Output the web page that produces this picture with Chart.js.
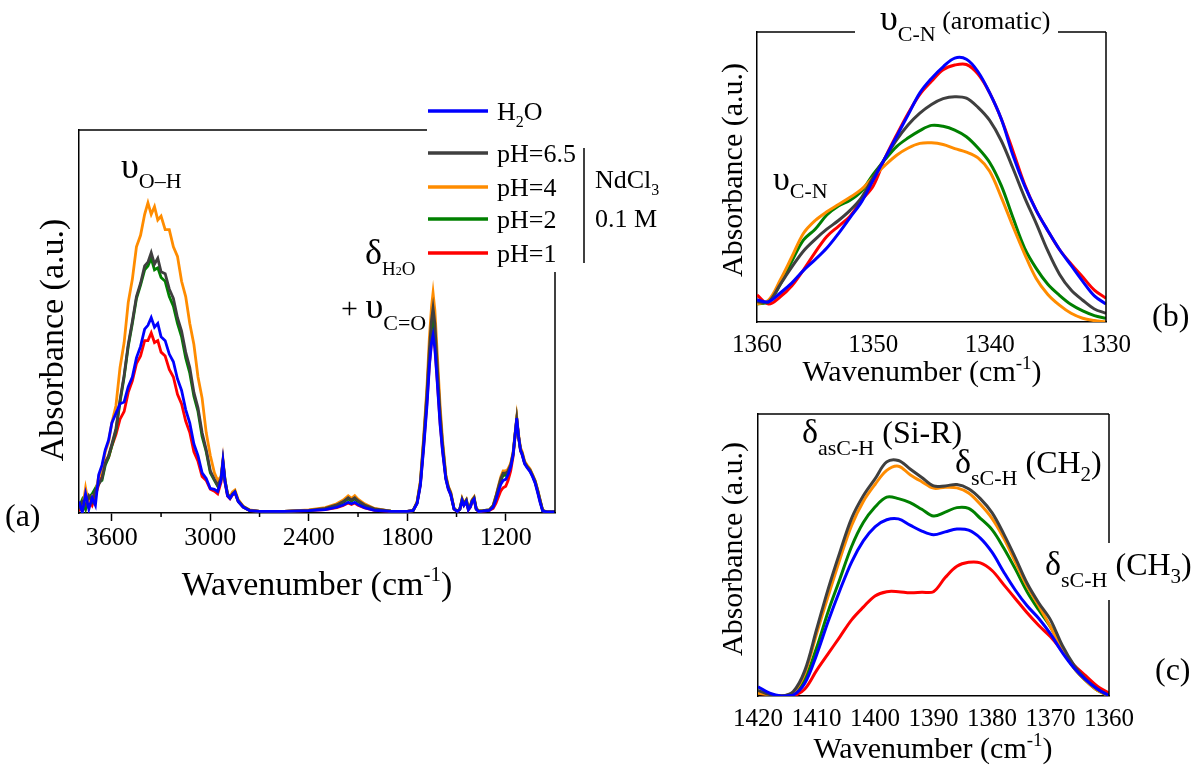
<!DOCTYPE html>
<html>
<head>
<meta charset="utf-8">
<script src="https://cdn.jsdelivr.net/npm/chart.js@4.4.1/dist/chart.umd.min.js"></script>
<style>
  body { margin: 0; background: #fff; }
  #wrap { position: relative; width: 1194px; height: 771px; }
  canvas { position: absolute; }
</style>
</head>
<body>
<div id="wrap">
  <canvas id="chartA" width="690" height="620" style="left:0;top:0"></canvas>
  <canvas id="chartB" width="504" height="400" style="left:690px;top:0"></canvas>
  <canvas id="chartC" width="504" height="371" style="left:690px;top:400px"></canvas>
</div>
<script>
const seriesLabels = ["H2O", "pH=6.5", "pH=4", "pH=2", "pH=1"];
const seriesColors = ["#0000ff", "#3f3f3f", "#ff8c00", "#008000", "#ff0000"];

// (a) full spectrum, wavenumber (cm-1)
const wnA = [3800,3780,3760,3740,3720,3700,3680,3660,3640,3620,3600,3575,3550,3525,3500,3475,3450,3425,3400,3380,
  3360,3340,3320,3300,3275,3250,3225,3200,3175,3150,3125,3100,3075,3050,3025,3000,2975,2955,2935,2923,
  2910,2895,2880,2865,2850,2830,2800,2760,2700,2550,2400,2300,2230,2190,2160,2140,2120,2100,2060,2000,
  1900,1800,1765,1740,1720,1700,1680,1665,1652,1643,1632,1618,1600,1585,1565,1550,1535,1515,1495,1480,
  1466,1455,1440,1428,1415,1405,1393,1380,1365,1340,1300,1277,1260,1245,1230,1216,1200,1186,1170,1155,
  1143,1133,1122,1110,1100,1085,1070,1052,1036,1021,1005,991,975,950,900];
const aH2O = [.03,.002,.05,.01,.04,.02,.10,.125,.165,.19,.235,.26,.285,.29,.33,.355,.405,.435,.48,.49,
  .51,.485,.495,.46,.45,.415,.395,.35,.32,.27,.235,.18,.15,.105,.09,.064,.062,.056,.085,.135,
  .08,.045,.038,.048,.054,.03,.015,.006,.004,.004,.006,.009,.015,.021,.028,.024,.028,.022,.014,.007,
  .004,.004,.006,.025,.072,.17,.28,.385,.445,.465,.43,.345,.23,.16,.088,.062,.047,.01,.004,.009,
  .032,.02,.03,.008,.016,.03,.036,.01,.004,.005,.007,.015,.034,.056,.075,.085,.088,.10,.12,.152,
  .205,.248,.20,.163,.152,.128,.118,.108,.094,.078,.052,.028,.005,.003,.003];
const aPH65 = [.01,.03,.02,.045,.03,.06,.075,.09,.13,.15,.18,.22,.295,.36,.44,.50,.565,.60,.645,.655,
  .68,.65,.665,.63,.625,.585,.56,.51,.475,.42,.38,.315,.275,.21,.165,.11,.088,.072,.09,.135,
  .085,.05,.04,.05,.056,.032,.017,.007,.004,.004,.007,.012,.021,.03,.04,.034,.04,.032,.021,.011,
  .005,.004,.006,.028,.08,.19,.315,.43,.505,.535,.495,.39,.26,.18,.095,.068,.052,.011,.005,.01,
  .036,.024,.034,.012,.02,.033,.04,.012,.005,.006,.008,.019,.043,.067,.09,.104,.104,.11,.126,.156,
  .205,.245,.20,.166,.156,.132,.122,.112,.098,.083,.058,.034,.006,.003,.003];
const aPH4 = [.02,.008,.065,.02,.045,.05,.095,.11,.16,.185,.235,.28,.38,.445,.55,.61,.695,.725,.78,.81,
  .78,.80,.765,.775,.74,.74,.695,.67,.605,.565,.495,.44,.355,.30,.21,.15,.105,.085,.095,.14,
  .085,.05,.042,.055,.06,.035,.018,.008,.004,.004,.008,.014,.024,.034,.045,.038,.045,.036,.024,.012,
  .005,.004,.006,.03,.085,.20,.33,.46,.54,.575,.53,.42,.28,.19,.10,.07,.055,.012,.005,.01,
  .038,.025,.035,.012,.02,.035,.042,.012,.005,.006,.008,.02,.045,.07,.095,.11,.11,.115,.13,.16,
  .21,.25,.205,.17,.16,.135,.125,.115,.10,.085,.06,.035,.006,.003,.003];
const aPH2 = [.015,.035,.01,.04,.05,.065,.08,.085,.125,.145,.175,.215,.29,.355,.435,.495,.56,.595,.635,.645,
  .665,.635,.64,.615,.605,.565,.54,.495,.46,.405,.365,.305,.265,.20,.16,.105,.085,.07,.088,.132,
  .083,.048,.04,.05,.055,.031,.016,.007,.004,.004,.007,.011,.019,.028,.037,.031,.037,.03,.019,.01,
  .005,.004,.006,.027,.078,.185,.305,.415,.485,.51,.47,.375,.25,.175,.092,.066,.05,.011,.005,.01,
  .035,.023,.033,.011,.019,.032,.039,.011,.005,.006,.008,.018,.04,.064,.086,.098,.098,.106,.124,.155,
  .205,.245,.20,.165,.155,.131,.121,.111,.097,.082,.057,.033,.006,.003,.003];
const aPH1 = [.005,.02,.01,.035,.02,.045,.075,.095,.135,.145,.175,.205,.245,.265,.315,.345,.39,.41,.45,.45,
  .47,.445,.45,.42,.41,.375,.355,.31,.285,.24,.21,.16,.135,.095,.085,.062,.057,.05,.08,.128,
  .078,.044,.037,.047,.053,.03,.015,.006,.004,.004,.006,.009,.014,.02,.026,.022,.026,.02,.013,.007,
  .004,.004,.006,.026,.074,.175,.29,.39,.45,.47,.435,.35,.235,.163,.09,.063,.048,.01,.004,.009,
  .031,.02,.029,.008,.016,.029,.035,.01,.004,.005,.007,.012,.025,.042,.058,.066,.07,.085,.11,.148,
  .20,.242,.198,.162,.152,.13,.12,.11,.096,.08,.055,.03,.006,.003,.003];
const ticksA = [3600, 3000, 2400, 1800, 1200];
const minorTicksA = [3300, 2700, 2100, 1500];

// (b) aromatic C-N region
const wnB = [1360,1359,1358,1357,1356,1355,1354,1353,1352,1351,1350,1349,1348,1347,1346,1345,
  1344,1343,1342,1341,1340,1339,1338,1337,1336,1335,1334,1333,1332,1331,1330];
const bH2O = [.076,.07,.10,.135,.178,.215,.255,.305,.36,.415,.49,.565,.64,.715,.79,.84,
  .88,.91,.906,.863,.79,.70,.575,.47,.385,.315,.25,.195,.14,.09,.062];
const bPH65 = [.07,.07,.13,.19,.245,.285,.32,.35,.385,.43,.50,.565,.628,.68,.72,.75,
  .77,.777,.772,.74,.695,.625,.53,.43,.34,.245,.165,.11,.075,.045,.03];
const bPH4 = [.062,.076,.145,.225,.306,.35,.38,.405,.43,.458,.50,.54,.575,.60,.616,.618,
  .612,.598,.586,.566,.52,.43,.33,.235,.15,.095,.058,.03,.013,.005,0];
const bPH2 = [.062,.07,.13,.21,.283,.32,.369,.40,.42,.452,.51,.56,.605,.635,.66,.678,
  .675,.662,.639,.60,.55,.47,.36,.255,.185,.13,.092,.06,.038,.022,.013];
const bPH1 = [.093,.062,.087,.125,.18,.24,.295,.33,.365,.42,.47,.565,.645,.72,.785,.83,
  .87,.886,.888,.855,.79,.70,.59,.475,.385,.315,.25,.20,.155,.11,.082];
const ticksB = [1360, 1350, 1340, 1330];

// (c) C-H bending region
const wnC = [1420,1418,1416,1414,1412,1410,1408,1406,1404,1402,1400,1398,1396,1394,1392,1390,
  1388,1386,1384,1382,1380,1378,1376,1374,1372,1370,1368,1366,1364,1362,1360];
const cH2O = [.033,.01,0,.003,.045,.145,.265,.375,.475,.55,.60,.625,.628,.606,.585,.572,
  .582,.592,.588,.56,.51,.44,.375,.32,.275,.22,.155,.10,.058,.025,.002];
const cPH65 = [.02,.005,0,.015,.09,.235,.38,.51,.63,.71,.77,.83,.835,.805,.775,.745,
  .745,.75,.735,.70,.65,.575,.49,.40,.33,.27,.18,.11,.06,.025,0];
const cPH4 = [.01,.005,0,.012,.08,.22,.355,.485,.605,.69,.75,.80,.815,.785,.76,.737,
  .74,.738,.72,.68,.63,.56,.475,.39,.32,.245,.165,.10,.055,.02,0];
const cPH2 = [.01,.005,0,.008,.06,.17,.30,.415,.53,.615,.67,.705,.70,.686,.662,.638,
  .652,.668,.665,.63,.59,.525,.45,.37,.305,.245,.17,.10,.055,.02,0];
const cPH1 = [.01,.003,0,0,.025,.09,.15,.21,.27,.315,.355,.37,.37,.366,.368,.37,
  .42,.46,.474,.472,.445,.395,.345,.295,.25,.21,.16,.11,.072,.035,.01];
const ticksC = [1420, 1410, 1400, 1390, 1380, 1370, 1360];

const serif = '"Liberation Serif", "Times New Roman", serif';

// parts: [text, font size, y offset]
function rich(ctx, x, y, parts, align) {
  let w = 0;
  parts.forEach(p => { ctx.font = p[1] + 'px ' + serif; w += ctx.measureText(p[0]).width; });
  let cx = align === 'center' ? x - w / 2 : x;
  ctx.fillStyle = '#000';
  ctx.textAlign = 'left';
  ctx.textBaseline = 'alphabetic';
  parts.forEach(p => {
    ctx.font = p[1] + 'px ' + serif;
    ctx.fillText(p[0], cx, y + (p[2] || 0));
    cx += ctx.measureText(p[0]).width;
  });
}
function vrich(ctx, x, y, parts) {
  ctx.save();
  ctx.translate(x, y);
  ctx.rotate(-Math.PI / 2);
  rich(ctx, 0, 0, parts, 'center');
  ctx.restore();
}
function seg(ctx, x1, y1, x2, y2, w, col) {
  ctx.save();
  ctx.strokeStyle = col || '#000';
  ctx.lineWidth = w || 1.5;
  ctx.beginPath();
  ctx.moveTo(x1, y1);
  ctx.lineTo(x2, y2);
  ctx.stroke();
  ctx.restore();
}

function makeChart(id, xs, ys, cfg) {
  return new Chart(document.getElementById(id), {
    type: 'line',
    data: {
      datasets: ys.map((v, i) => ({
        label: seriesLabels[i],
        data: xs.map((x, j) => ({ x: x, y: v[j] })),
        borderColor: seriesColors[i],
        borderWidth: cfg.lw,
        pointRadius: 0,
        tension: cfg.tension,
        fill: false
      }))
    },
    options: {
      responsive: false,
      animation: false,
      events: [],
      layout: { padding: cfg.pad },
      plugins: { legend: { display: false }, tooltip: { enabled: false } },
      scales: {
        x: {
          type: 'linear', reverse: true, min: cfg.xmin, max: cfg.xmax,
          afterBuildTicks: s => { s.ticks = cfg.ticks.map(v => ({ value: v })); },
          afterFit: s => { s.height = cfg.xh; },
          ticks: { color: '#000', font: { family: serif, size: cfg.tickSize }, padding: cfg.tickPad,
                   maxRotation: 0, autoSkip: false, callback: v => String(v) },
          grid: { display: cfg.tickLen > 0, drawOnChartArea: false, tickLength: cfg.tickLen,
                  color: '#000', tickWidth: 1.5 },
          border: { display: true, color: '#000', width: 1.5 }
        },
        y: {
          min: 0, max: 1,
          ticks: { display: false },
          grid: { display: false },
          border: { display: true, color: '#000', width: 1.5 },
          afterFit: s => { s.width = cfg.yw; }
        }
      }
    },
    plugins: [{ id: 'decor', afterDraw: c => cfg.decor(c, c.ctx, c.chartArea) }]
  });
}

// (a)
makeChart('chartA', wnA, [aH2O, aPH65, aPH4, aPH2, aPH1], {
  lw: 2.8, tension: 0, xmin: 900, xmax: 3800, ticks: ticksA, tickLen: 8, tickSize: 26, tickPad: 2,
  pad: { left: 0, top: 130, right: 135, bottom: 0 }, xh: 107, yw: 79,
  decor: (c, ctx, ca) => {
    seg(ctx, ca.left, ca.top, 427, ca.top);
    seg(ctx, ca.right, 272, ca.right, ca.bottom);
    const sx = c.scales.x;
    minorTicksA.forEach(v => {
      const px = sx.getPixelForValue(v);
      seg(ctx, px, ca.bottom, px, ca.bottom + 4);
    });
    // legend
    const rows = [111, 153, 187, 219, 253];
    rows.forEach((y, i) => {
      seg(ctx, 428, y, 488, y, 3.5, seriesColors[i]);
      if (i === 0) rich(ctx, 497, y + 9, [['H', 26], ['2', 16, 7], ['O', 26]]);
      else rich(ctx, 497, y + 9, [[seriesLabels[i], 26]]);
    });
    seg(ctx, 584, 148, 584, 263);
    rich(ctx, 595, 188, [['NdCl', 26], ['3', 16, 7]]);
    rich(ctx, 595, 227, [['0.1 M', 26]]);
    // band labels
    rich(ctx, 121, 178, [['\u03c5', 36], ['O\u2013H', 22, 10]]);
    rich(ctx, 365, 264, [['\u03b4', 36], ['H', 19, 11], ['2', 12, 11], ['O', 19, 11]]);
    rich(ctx, 341, 318, [['+ ', 30], ['\u03c5', 36], ['C=O', 22, 12]]);
    rich(ctx, 5, 526, [['(a)', 32]]);
    rich(ctx, 317, 595, [['Wavenumber (cm', 34], ['-1', 21, -14], [')', 34]], 'center');
    vrich(ctx, 63, 340, [['Absorbance (a.u.)', 34]]);
  }
});

// (b)
makeChart('chartB', wnB, [bH2O, bPH65, bPH4, bPH2, bPH1], {
  lw: 3, tension: 0.35, xmin: 1330, xmax: 1360, ticks: ticksB, tickLen: 0, tickSize: 25, tickPad: 8,
  pad: { left: 0, top: 32, right: 88, bottom: 0 }, xh: 78, yw: 67,
  decor: (c, ctx, ca) => {
    seg(ctx, ca.left, ca.top, 165, ca.top);
    seg(ctx, 368, ca.top, ca.right, ca.top);
    seg(ctx, ca.right, ca.top, ca.right, ca.bottom);
    rich(ctx, 190, 30, [['\u03c5', 36], ['C-N', 22, 11], [' (aromatic)', 26, -1]]);
    rich(ctx, 83, 190, [['\u03c5', 34], ['C-N', 22, 8]]);
    rich(ctx, 462, 326, [['(b)', 32]]);
    rich(ctx, 232, 381, [['Wavenumber (cm', 30], ['-1', 19, -12], [')', 30]], 'center');
    vrich(ctx, 52, 170, [['Absorbance (a.u.)', 30]]);
  }
});

// (c)
makeChart('chartC', wnC, [cH2O, cPH65, cPH4, cPH2, cPH1], {
  lw: 3, tension: 0.35, xmin: 1360, xmax: 1420, ticks: ticksC, tickLen: 0, tickSize: 25, tickPad: 8,
  pad: { left: 0, top: 14, right: 85, bottom: 0 }, xh: 75, yw: 68,
  decor: (c, ctx, ca) => {
    seg(ctx, ca.left, ca.top, ca.right, ca.top);
    seg(ctx, ca.right, ca.top, ca.right, 143);
    seg(ctx, ca.right, 200, ca.right, ca.bottom);
    rich(ctx, 112, 43, [['\u03b4', 34], ['asC-H', 22, 12], [' (Si-R)', 32]]);
    rich(ctx, 265, 73, [['\u03b4', 34], ['sC-H', 22, 12], [' (CH', 32], ['2', 21, 8], [')', 32]]);
    rich(ctx, 355, 175, [['\u03b4', 34], ['sC-H', 22, 12], [' (CH', 32], ['3', 21, 8], [')', 32]]);
    rich(ctx, 465, 280, [['(c)', 32]]);
    rich(ctx, 243, 358, [['Wavenumber (cm', 30], ['-1', 19, -12], [')', 30]], 'center');
    vrich(ctx, 52, 149, [['Absorbance (a.u.)', 30]]);
  }
});
</script>
</body>
</html>
